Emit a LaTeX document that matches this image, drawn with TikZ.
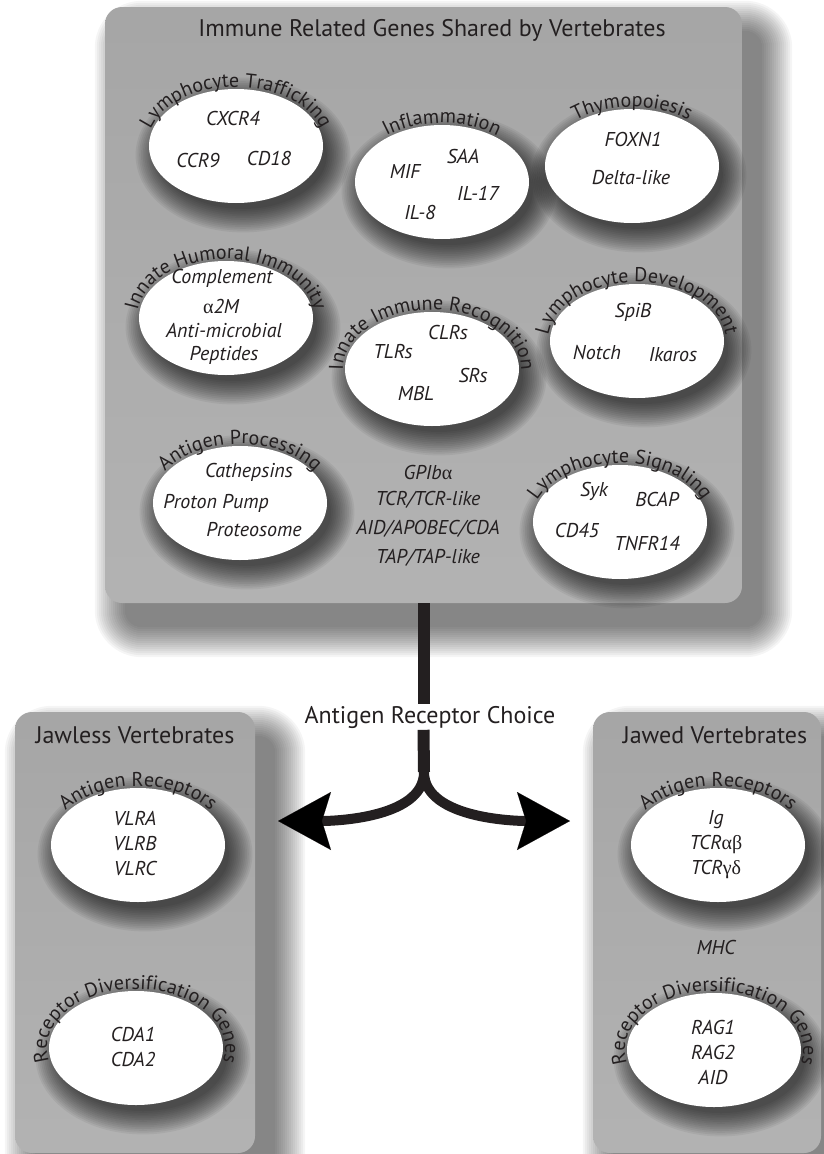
\documentclass[tikz,border=0pt]{standalone}
\usepackage{fontspec}
\setmainfont{PT Sans}
\newfontfamily\grk{Liberation Serif}
\usepackage{tikz}
\usetikzlibrary{positioning,arrows.meta,shapes.geometric,decorations.text}

\definecolor{ink}{HTML}{231F20}
\pgfdeclarelayer{shade}
\pgfdeclarelayer{panels}
\pgfdeclarelayer{ovalshade}
\pgfsetlayers{shade,panels,ovalshade,main}

\newcommand{\titlefont}{\fontsize{24}{27}\selectfont}
\newcommand{\lblfont}{\fontsize{20}{23}\selectfont}
\newcommand{\genefont}{\fontsize{20}{25}\selectfont\itshape}
\newcommand{\gr}[1]{{\grk\upshape #1}}

% group name bent over the top of an oval
\newcommand{\arclabel}[2]{%
  \path[decorate,decoration={text along path,text align=center,
        text color=ink,text={|\lblfont|#2}}]
    ([shift={(215:89 and 59)}]#1.center)
    arc[start angle=215,end angle=-35,x radius=89,y radius=59];}

\begin{document}
\begin{tikzpicture}[x=1pt,y=1pt,font=\lblfont,text=ink]
				\tikzstyle{panel}=[draw=none,rounded corners=17pt,top color=black!35,bottom color=black!30]
				\tikzstyle{oval}=[ellipse,fill=white,minimum width=174pt,minimum height=114pt,inner sep=0pt]
				\tikzstyle{gene}=[font=\genefont,inner sep=0pt]
				\tikzstyle{head}=[font=\titlefont]
				\tikzstyle{stem}=[draw=ink,line width=12pt]
				\tikzstyle{branch}=[draw=ink,line width=10pt,
				-{Stealth[length=53pt,width=58pt,inset=9pt,line width=0.1pt]}]
				\useasboundingbox (0,0) rectangle (823,-1154);
				
				% the three panels
				\begin{pgfonlayer}{panels}
				\node[panel,minimum width=637pt,minimum height=596pt] (shared) at (423.5,-305) {};
				\node[panel,minimum width=240pt,minimum height=441pt] (jawless) at (135,-932.5) {};
				\node[panel,minimum width=228pt,minimum height=441pt] (jawed) at (707,-932.5) {};
				\end{pgfonlayer}
				\node[head] (sharedtitle) at (432,-30) {Immune Related Genes Shared by Vertebrates};
				\node[head] (jawlesstitle) at (135,-735) {Jawless Vertebrates};
				\node[head] (jawedtitle) at (715,-735) {Jawed Vertebrates};
				
				% shared genes
				\node[oval] (traf) at (236,-146) {};
				\node[oval] (infl) at (442,-182) {};
				\node[oval] (thym) at (632,-166) {};
				\node[oval] (humo) at (226,-318) {};
				\node[oval] (recog) at (432,-369) {};
				\node[oval] (devel) at (637,-341) {};
				\node[oval] (proc) at (240,-503) {};
				\node[oval] (sign) at (620,-522) {};
				\arclabel{traf}{Lymphocyte Trafficking}
				\arclabel{infl}{Inflammation}
				\arclabel{thym}{Thymopoiesis}
				\arclabel{humo}{Innate Humoral Immunity}
				\arclabel{recog}{Innate Immune Recognition}
				\arclabel{devel}{Lymphocyte Development}
				\arclabel{proc}{Antigen Processing}
				\arclabel{sign}{Lymphocyte Signaling}
				
				\node[gene] (cxcr) at (233,-118) {CXCR4};
				\node[gene] (ccr) at (198,-160) {CCR9};
				\node[gene] (cd18) at (269,-158) {CD18};
				\node[gene] (mif) at (405,-171) {MIF};
				\node[gene] (saa) at (463,-156) {SAA};
				\node[gene] (il17) at (478,-193) {IL-17};
				\node[gene] (il8) at (420,-212) {IL-8};
				\node[gene] (foxn) at (633,-139) {FOXN1};
				\node[gene] (delta) at (631,-178) {Delta-like};
				\node[gene] (compl) at (222,-278) {Complement};
				\node[gene] (a2m) at (221,-306) {\gr{α}2M};
				\node[gene] (amp) at (224,-331) {Anti-microbial};
				\node[gene] (pept) at (224,-355) {Peptides};
				\node[gene] (clr) at (448,-332) {CLRs};
				\node[gene] (tlr) at (393,-352) {TLRs};
				\node[gene] (sr) at (473,-375) {SRs};
				\node[gene] (mbl) at (416,-393) {MBL};
				\node[gene] (spib) at (633,-312) {SpiB};
				\node[gene] (notch) at (597,-353) {Notch};
				\node[gene] (ikaros) at (673,-355) {Ikaros};
				\node[gene] (cath) at (249,-472) {Cathepsins};
				\node[gene] (pump) at (216,-503) {Proton Pump};
				\node[gene] (prot) at (254,-530) {Proteosome};
				\node[gene] (syk) at (594,-491) {Syk};
				\node[gene] (bcap) at (657,-499) {BCAP};
				\node[gene] (cd45) at (577,-530) {CD45};
				\node[gene] (tnfr) at (647,-543) {TNFR14};
				\node[gene] (gp) at (428,-472) {GPIb\gr{α}};
				\node[gene] (tcr) at (428,-500) {TCR/TCR-like};
				\node[gene] (aid) at (428,-529) {AID/APOBEC/CDA};
				\node[gene] (tap) at (428,-558) {TAP/TAP-like};
				
				% jawless
				\node[oval] (jlrec) at (138,-845) {};
				\node[oval] (jlgen) at (136,-1048) {};
				\arclabel{jlrec}{Antigen Receptors}
				\arclabel{jlgen}{Receptor Diversification Genes}
				\node[gene,align=center] (vlr) at (135,-843) {VLRA\\VLRB\\VLRC};
				\node[gene,align=center] (cda) at (133,-1047) {CDA1\\CDA2};
				
				% jawed
				\node[oval] (jwrec) at (718,-845) {};
				\node[oval] (jwgen) at (714,-1050) {};
				\arclabel{jwrec}{Antigen Receptors}
				\arclabel{jwgen}{Receptor Diversification Genes}
				\node[gene,align=center] (tcrs) at (716,-845) {Ig\\TCR\gr{αβ}\\TCR\gr{γδ}};
				\node[gene] (mhc) at (716,-947) {MHC};
				\node[gene,align=center] (rag) at (713,-1052) {RAG1\\RAG2\\AID};
				
				% soft shadows
				\begin{pgfonlayer}{shade}
				\foreach \p in {shared,jawless,jawed}
				\foreach \i in {0,...,15}{
					\pgfmathsetmacro{\rc}{17+2*\i}
					\fill[black,opacity=.04,rounded corners=\rc pt]
					([shift={(20-2*\i,-24-2*\i)}]\p.south west) rectangle ([shift={(20+2*\i,-24+2*\i)}]\p.north east);}
				\end{pgfonlayer}
				\begin{pgfonlayer}{ovalshade}
				\foreach \n in {traf,infl,thym,humo,recog,devel,proc,sign,jlrec,jlgen,jwrec,jwgen}
				\foreach \i in {0,...,13}{
					\pgfmathsetmacro{\rx}{84+1.8*\i}
					\pgfmathsetmacro{\ry}{54+1.8*\i}
					\fill[black,opacity=.055] ([shift={(7,-9)}]\n.center) ellipse [x radius=\rx, y radius=\ry];}
				\end{pgfonlayer}
				
				% the choice
				\node[head,inner sep=1.5pt] (choice) at (430,-717) {Antigen Receptor Choice};
				\coordinate (split) at (424,-772);
				\coordinate (ltip) at (278,-821);
				\coordinate (rtip) at (570,-821);
				\draw[stem] (shared.south) -- (shared.south |- choice.north);
				\draw[stem] (shared.south |- choice.south) -- (split);
				\draw[branch] (split) to[out=-90,in=0,looseness=.8] (ltip);
				\draw[branch] (split) to[out=-90,in=180,looseness=.8] (rtip);
\end{tikzpicture}
\end{document}
